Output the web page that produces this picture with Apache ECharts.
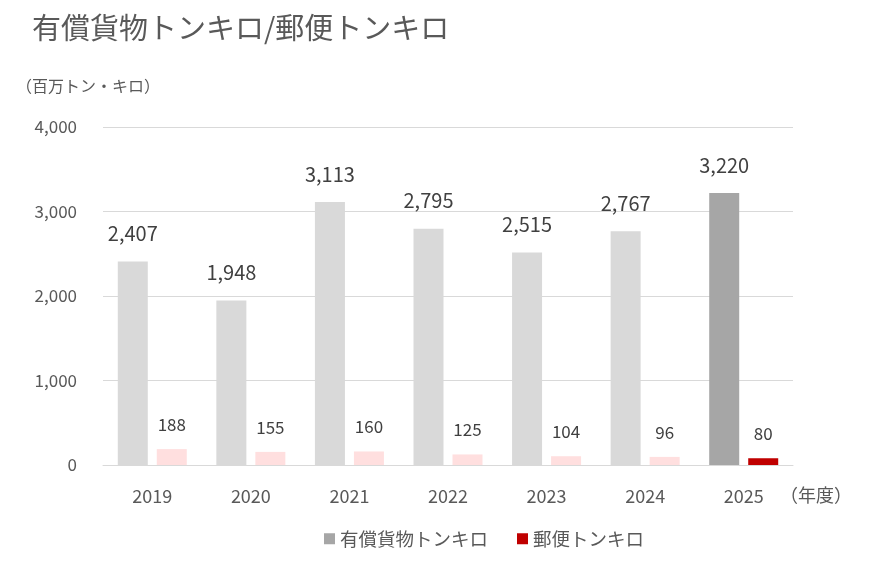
<!DOCTYPE html>
<html>
<head>
<meta charset="utf-8">
<style>
    html, body { margin: 0; padding: 0; background: #fff; }
    #chart { width: 884px; height: 561px; }
</style>
<script src="https://cdn.jsdelivr.net/npm/echarts@6/dist/echarts.min.js"></script>
</head>
<body>
<div id="chart"></div>
<script>
// 年度
var years = ['2019', '2020', '2021', '2022', '2023', '2024', '2025'];
// 有償貨物トンキロ（百万トン・キロ）
var cargo = [2407, 1948, 3113, 2795, 2515, 2767, 3220];
// 郵便トンキロ（百万トン・キロ）
var mail = [188, 155, 160, 125, 104, 96, 80];
var yTicks = [0, 1000, 2000, 3000, 4000];

var FONT = '"Noto Sans CJK JP", "Noto Sans", sans-serif';
var TEXT = '#595959';

// 最新年度だけ濃い色
function paint(values, pale, strong) {
    return values.map(function (v, i) {
        return { value: v, itemStyle: { color: i === values.length - 1 ? strong : pale } };
    });
}

var chart = echarts.init(document.getElementById('chart'));

var option = {
    animation: false,
    textStyle: { fontFamily: FONT },
    title: [
        {
            text: '有償貨物トンキロ/郵便トンキロ',
            left: 27, top: 8,
            textStyle: { fontFamily: FONT, fontSize: 29, fontWeight: 'normal', color: TEXT }
        },
        {
            text: '（百万トン・キロ）',
            left: 11, top: 73,
            textStyle: { fontFamily: FONT, fontSize: 16, fontWeight: 'normal', color: TEXT }
        },
        {
            text: '（年度）',
            left: 775, top: 481,
            textStyle: { fontFamily: FONT, fontSize: 18, fontWeight: 'normal', color: TEXT }
        }
    ],
    legend: {
        bottom: 8,
        left: 319,
        itemWidth: 11,
        itemHeight: 11,
        itemGap: 29,
        icon: 'rect',
        textStyle: { fontFamily: FONT, fontSize: 18.5, color: TEXT },
        data: [
            { name: '有償貨物トンキロ', itemStyle: { color: '#a6a6a6' } },
            { name: '郵便トンキロ', itemStyle: { color: '#c00000' } }
        ]
    },
    grid: { left: 103, right: 91, top: 127, bottom: 96 },
    xAxis: {
        type: 'category',
        data: years,
        axisLine: { lineStyle: { color: '#d9d9d9', width: 1 } },
        axisTick: { show: false },
        axisLabel: { color: TEXT, fontSize: 18, margin: 22, fontFamily: FONT }
    },
    yAxis: {
        type: 'value',
        min: yTicks[0],
        max: yTicks[yTicks.length - 1],
        interval: 1000,
        axisLine: { show: false },
        axisTick: { show: false },
        splitLine: { lineStyle: { color: '#d9d9d9', width: 1 } },
        axisLabel: {
            color: TEXT, fontSize: 17, margin: 26, fontFamily: FONT,
            formatter: function (v) { return v.toLocaleString('en-US'); }
        }
    },
    series: [
        {
            name: '有償貨物トンキロ',
            type: 'bar',
            barWidth: 30,
            barGap: '30%',
            data: paint(cargo, '#d9d9d9', '#a6a6a6'),
            label: {
                show: true,
                position: 'top',
                distance: 18,
                color: '#404040',
                fontSize: 20,
                fontFamily: FONT,
                formatter: function (p) { return p.value.toLocaleString('en-US'); }
            }
        },
        {
            name: '郵便トンキロ',
            type: 'bar',
            barWidth: 30,
            data: paint(mail, '#ffdfdf', '#c00000'),
            label: {
                show: true,
                position: 'top',
                distance: 16,
                color: '#404040',
                fontSize: 17,
                fontFamily: FONT
            }
        }
    ]
};

chart.setOption(option);
window.addEventListener('resize', function () {
    chart.resize();
});
</script>
</body>
</html>
